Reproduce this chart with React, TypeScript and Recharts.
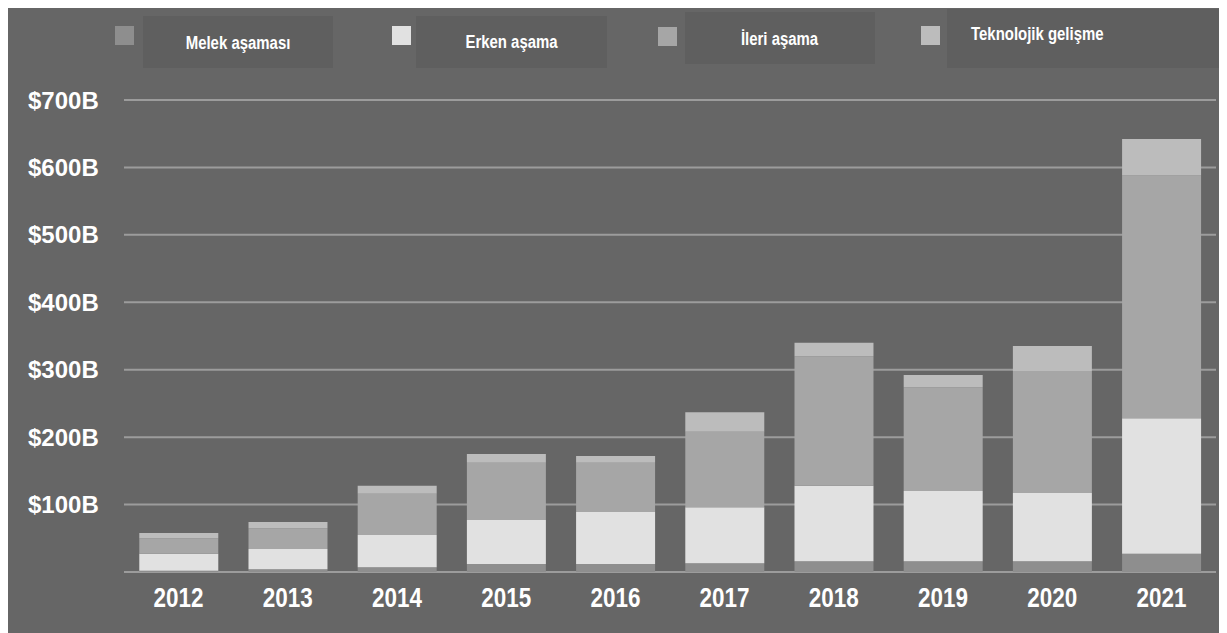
import { Bar, BarChart, CartesianGrid, Legend, XAxis, YAxis } from 'recharts';

// Veri (milyar $)
const years = ['2012', '2013', '2014', '2015', '2016', '2017', '2018', '2019', '2020', '2021'];
const melek = [2, 4, 7, 12, 12, 13, 16, 16, 16, 27];
const erken = [25, 30, 48, 65, 77, 83, 112, 104, 101, 201];
const ileri = [23, 31, 61, 85, 73, 112, 192, 154, 181, 360];
const teknolojik = [8, 9, 12, 13, 10, 29, 20, 18, 37, 54];
const yTicks = [0, 100, 200, 300, 400, 500, 600, 700];

const seriesNames = ['Melek aşaması', 'Erken aşama', 'İleri aşama', 'Teknolojik gelişme'];
const seriesColors = ['#8e8e8e', '#e1e1e1', '#a6a6a6', '#bcbcbc'];

const data = years.map((year, i) => ({
    year,
    melek: melek[i],
    erken: erken[i],
    ileri: ileri[i],
    teknolojik: teknolojik[i],
}));

const sans = "'Liberation Sans', Arial, sans-serif";

// lejant kutularının yerleşimi (seriesNames sırasıyla)
const legendLayout = [
    { sq: [107, 18], box: [135, 8, 190, 52], center: true, shift: 1 },
    { sq: [384, 18], box: [408, 8, 191, 52], center: true, shift: 0 },
    { sq: [650, 19], box: [677, 4, 190, 52], center: true, shift: 1 },
    { sq: [913, 18], box: [939, 1, 280, 59], center: false, shift: -4 },
];

const CustomLegend = ({ payload }: any) => (
    <div style={{ position: 'relative', width: 1219, height: 80 }}>
        {(payload || []).map((entry: any) => {
            const l = legendLayout[seriesNames.indexOf(entry.value)];
            if (!l) return null;
            return (
                <div key={entry.value}>
                    <div style={{ position: 'absolute', left: l.sq[0], top: l.sq[1], width: 19, height: 19, background: entry.color }} />
                    <div
                        style={{
                            position: 'absolute', left: l.box[0], top: l.box[1], width: l.box[2], height: l.box[3],
                            background: '#5f5f5f', display: 'flex', alignItems: 'center',
                            justifyContent: l.center ? 'center' : 'flex-start',
                            paddingLeft: l.center ? 0 : 24, boxSizing: 'border-box',
                        }}
                    >
                        <span
                            style={{
                                display: 'inline-block', whiteSpace: 'nowrap', color: '#fff', fontFamily: sans,
                                fontWeight: 'bold', fontSize: 18,
                                transform: `translateY(${l.shift}px) scaleX(0.83)`,
                                transformOrigin: l.center ? 'center' : 'left',
                            }}
                        >
                            {entry.value}
                        </span>
                    </div>
                </div>
            );
        })}
    </div>
);

const YTick = ({ y, payload }: any) => {
    if (payload.value === 0) return null;
    return (
        <text x={20} y={y} dominantBaseline="central" textAnchor="start" fill="#fff"
            fontFamily={sans} fontWeight="bold" fontSize={24}>
            {`$${payload.value}B`}
        </text>
    );
};

const XTick = ({ x, y, payload }: any) => (
    <text x={x} y={y + 26} dominantBaseline="central" textAnchor="middle" fill="#fff"
        fontFamily={sans} fontWeight="bold" fontSize={27} textLength={50} lengthAdjust="spacingAndGlyphs">
        {payload.value}
    </text>
);

export default function App() {
    return (
        <div style={{ width: 1219, height: 625, background: '#666666' }}>
            <BarChart
                width={1219}
                height={625}
                data={data}
                margin={{ top: 92, right: 11, bottom: 21, left: 0 }}
                barCategoryGap="14%"
            >
                <CartesianGrid horizontal vertical={false} stroke="#9c9c9c" strokeWidth={2} />
                <XAxis dataKey="year" axisLine={false} tickLine={false} tickSize={0} tickMargin={0} height={40} tick={<XTick />} interval={0} />
                <YAxis domain={[0, 700]} ticks={yTicks} axisLine={false} tickLine={false} width={116} tick={<YTick />} interval={0} />
                <Legend
                    verticalAlign="middle"
                    align="center"
                    content={<CustomLegend />}
                    wrapperStyle={{ top: 0, left: 0, width: 1219, height: 80 }}
                />
                <Bar dataKey="melek" name={seriesNames[0]} stackId="a" fill={seriesColors[0]} isAnimationActive={false} />
                <Bar dataKey="erken" name={seriesNames[1]} stackId="a" fill={seriesColors[1]} isAnimationActive={false} />
                <Bar dataKey="ileri" name={seriesNames[2]} stackId="a" fill={seriesColors[2]} isAnimationActive={false} />
                <Bar dataKey="teknolojik" name={seriesNames[3]} stackId="a" fill={seriesColors[3]} isAnimationActive={false} />
            </BarChart>
        </div>
    );
}
